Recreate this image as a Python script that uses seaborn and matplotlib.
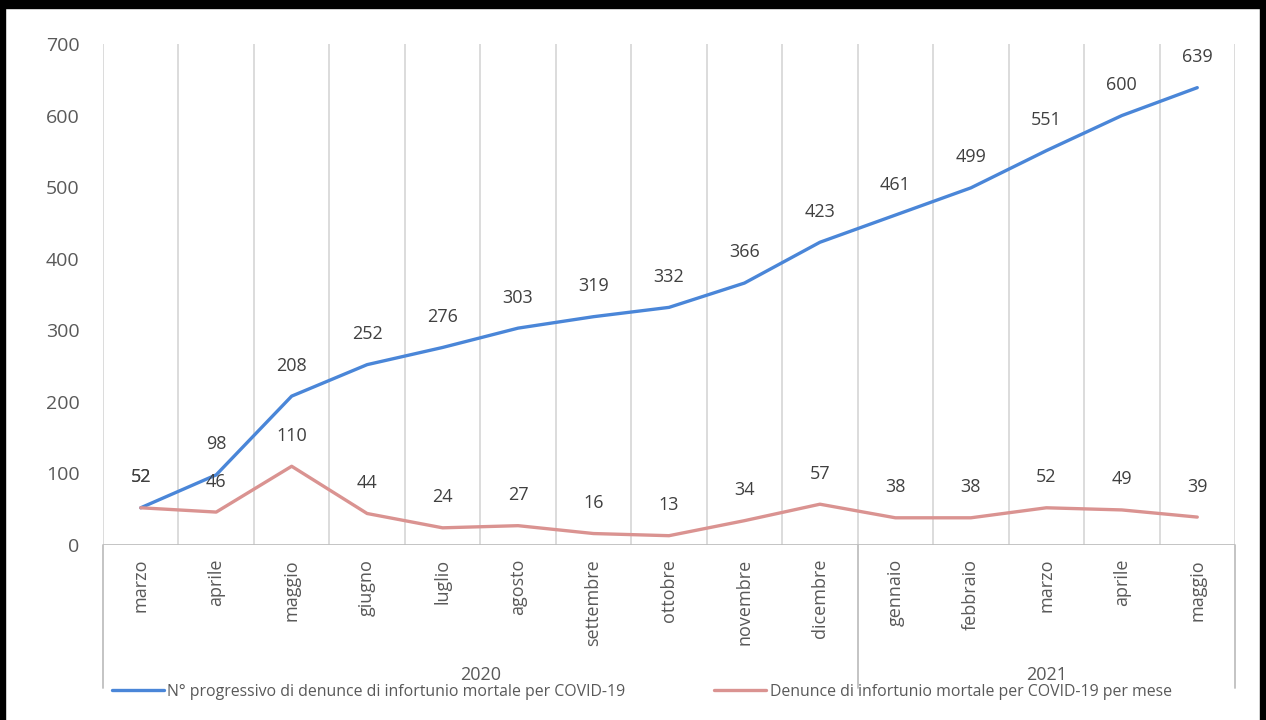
import matplotlib
matplotlib.use("Agg")
import matplotlib.pyplot as plt
import matplotlib.transforms as mtransforms
from matplotlib.lines import Line2D
from matplotlib.patches import Rectangle
import pandas as pd
import seaborn as sns

# ===================== data =====================
months = ["marzo", "aprile", "maggio", "giugno", "luglio", "agosto", "settembre",
          "ottobre", "novembre", "dicembre", "gennaio", "febbraio", "marzo",
          "aprile", "maggio"]
progressivo = [52, 98, 208, 252, 276, 303, 319, 332, 366, 423, 461, 499, 551, 600, 639]
mensili = [52, 46, 110, 44, 24, 27, 16, 13, 34, 57, 38, 38, 52, 49, 39]
years = ["2020", "2021"]
year_counts = [10, 5]

name_prog = "N° progressivo di denunce di infortunio mortale per COVID-19"
name_mese = "Denunce di infortunio mortale per COVID-19 per mese"

BLUE = "#4A86D8"
PINK = "#DA9391"
GRID = "#D9D9D9"
AXIS = "#BFBFBF"
TXT = "#404040"

# ===================== style =====================
sns.set_theme(style="white")
plt.rcParams["font.family"] = ["Open Sans", "DejaVu Sans"]

idx = list(range(len(months)))
df = pd.concat([
    pd.DataFrame({"pos": idx, "valore": progressivo, "serie": name_prog}),
    pd.DataFrame({"pos": idx, "valore": mensili, "serie": name_mese}),
])

fig = plt.figure(figsize=(12.66, 7.2), dpi=100)
ax = fig.add_axes([103 / 1266, 1 - 545 / 720, (1235 - 103) / 1266, (545 - 44) / 720])

sns.lineplot(data=df, x="pos", y="valore", hue="serie",
             palette={name_prog: BLUE, name_mese: PINK},
             linewidth=2.4, sort=False, legend=False, ax=ax)

ax.set_xlim(-0.5, len(months) - 0.5)
ax.set_ylim(0, 700)
ax.set_yticks(range(0, 701, 100))
ax.set_xticks(idx)
ax.set_xticklabels(months, rotation=90, va="top", ha="center")
ax.tick_params(axis="x", length=0, pad=10, labelsize=13, labelcolor="#595959")
ax.tick_params(axis="y", length=0, pad=17, labelsize=14, labelcolor="#595959")
ax.set_xlabel("")
ax.set_ylabel("")
for s in ax.spines.values():
    s.set_visible(False)

# vertical gridlines at category boundaries
for b in range(len(months) + 1):
    ax.axvline(b - 0.5, color=GRID, lw=1.3, zorder=0)
ax.axhline(0, color=AXIS, lw=1.3, zorder=1)

# group separators below the axis
trans = mtransforms.blended_transform_factory(ax.transData, ax.transAxes)
bounds = [0]
for c in year_counts:
    bounds.append(bounds[-1] + c)
for b in bounds:
    ax.plot([b - 0.5, b - 0.5], [0, -0.285], transform=trans, color=AXIS,
            lw=1.3, clip_on=False)
for i, y in enumerate(years):
    mid = (bounds[i] + bounds[i + 1] - 1) / 2
    ax.text(mid, -0.259, y, transform=trans, ha="center", va="center",
            fontsize=13, color="#595959")

# data labels
for x, v in zip(idx, progressivo):
    ax.annotate(str(v), (x, v), xytext=(0, 22), textcoords="offset points",
                ha="center", va="center", fontsize=13, color=TXT)
for x, v in zip(idx, mensili):
    ax.annotate(str(v), (x, v), xytext=(0, 22), textcoords="offset points",
                ha="center", va="center", fontsize=13, color=TXT)

# legend
handles = [Line2D([], [], color=BLUE, lw=2.4), Line2D([], [], color=PINK, lw=2.4)]
fig.legend(handles, [name_prog, name_mese], ncol=2, loc="center left",
           bbox_to_anchor=(112 / 1266, 1 - 692 / 720), frameon=False,
           fontsize=11.4, handlelength=3.3, handletextpad=0.2,
           columnspacing=5.6, borderpad=0, borderaxespad=0,
           labelcolor="#595959")

# black frame
fig.patches.append(Rectangle((0, 1 - 8 / 720), 1, 8 / 720, transform=fig.transFigure,
                             color="black", zorder=10))
fig.patches.append(Rectangle((0, 0), 5 / 1266, 1, transform=fig.transFigure,
                             color="black", zorder=10))
fig.patches.append(Rectangle((1 - 6 / 1266, 0), 6 / 1266, 1, transform=fig.transFigure,
                             color="black", zorder=10))

fig.savefig("out.png", dpi=100)
